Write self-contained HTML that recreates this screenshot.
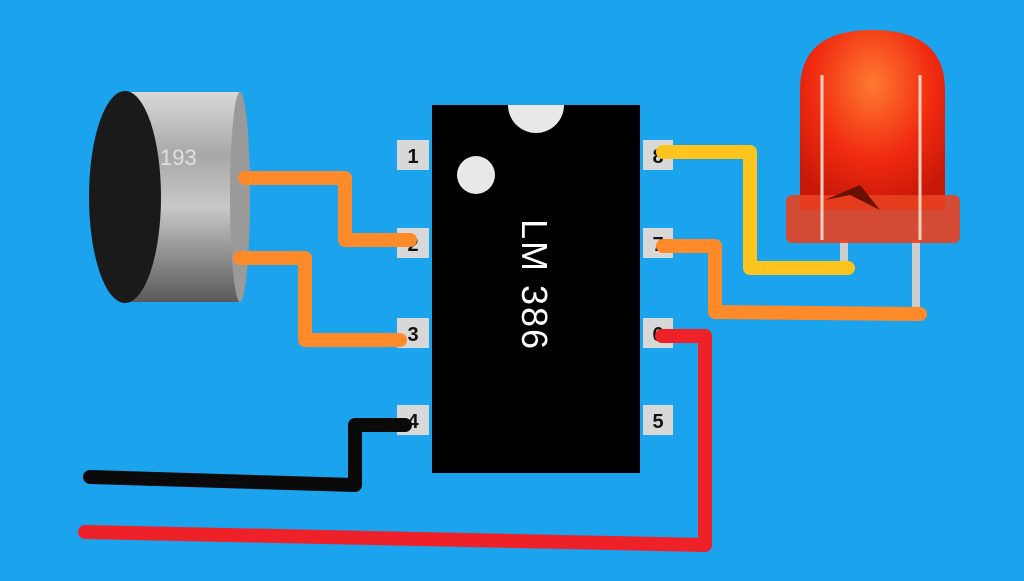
<!DOCTYPE html>
<html><head><style>body{margin:0;width:1024px;height:576px;overflow:hidden;background:#1ba3ee}</style></head><body>
<svg width="1024" height="576" viewBox="0 0 1024 576" xmlns="http://www.w3.org/2000/svg">
<defs>
<linearGradient id="mg" x1="0" y1="0" x2="0" y2="1">
<stop offset="0" stop-color="#d8d8d8"/><stop offset="0.3" stop-color="#a8a8a8"/><stop offset="0.55" stop-color="#c8c8c8"/><stop offset="0.8" stop-color="#8a8a8a"/><stop offset="1" stop-color="#5a5a5a"/></linearGradient>
<radialGradient id="lg" cx="0.5" cy="0.3" r="0.7"><stop offset="0" stop-color="#ff7a30"/><stop offset="0.6" stop-color="#f02a10"/><stop offset="1" stop-color="#c81808"/></radialGradient>
</defs>
<rect width="1024" height="576" fill="#1ba3ee"/>
<!-- mic -->
<rect x="125" y="92" width="115" height="210" fill="url(#mg)"/>
<ellipse cx="240" cy="197" rx="10" ry="105" fill="#9a9a9a"/>
<ellipse cx="125" cy="197" rx="36" ry="106" fill="#1a1a1a"/>
<text x="160" y="165" font-family="Liberation Sans,sans-serif" font-size="22" fill="#eee" opacity="0.8">193</text>
<!-- LED -->
<rect x="840" y="240" width="8" height="30" fill="#ccc"/>
<rect x="912" y="240" width="8" height="80" fill="#ccc"/>
<path d="M800 210 L800 90 Q800 30 872 30 Q945 30 945 90 L945 210 Z" fill="url(#lg)"/>
<rect x="786" y="195" width="174" height="48" rx="6" fill="#e84020" opacity="0.9"/>
<path d="M825 200 L860 185 L880 210 L850 195 Z" fill="#6a1000"/>
<line x1="822" y1="75" x2="822" y2="240" stroke="#ffd0c0" stroke-width="3"/>
<line x1="920" y1="75" x2="920" y2="240" stroke="#ffd0c0" stroke-width="3"/>
<!-- chip -->
<rect x="432" y="105" width="208" height="368" fill="#000"/>
<path d="M508 105 A28 28 0 0 0 564 105 Z" fill="#e8e8e8"/>
<circle cx="476" cy="175" r="19" fill="#e8e8e8"/>
<text transform="translate(522,285) rotate(90)" text-anchor="middle" font-family="Liberation Sans,sans-serif" font-size="36" fill="#fff" letter-spacing="2">LM 386</text>
<g fill="#d8d8d8">
<rect x="397" y="140" width="32" height="30"/><rect x="397" y="228" width="32" height="30"/><rect x="397" y="318" width="32" height="30"/><rect x="397" y="405" width="32" height="30"/>
<rect x="643" y="140" width="30" height="30"/><rect x="643" y="228" width="30" height="30"/><rect x="643" y="318" width="30" height="30"/><rect x="643" y="405" width="30" height="30"/>
</g>
<g font-family="Liberation Sans,sans-serif" font-weight="bold" font-size="20" fill="#111" text-anchor="middle">
<text x="413" y="163">1</text><text x="413" y="251">2</text><text x="413" y="341">3</text><text x="413" y="428">4</text>
<text x="658" y="163">8</text><text x="658" y="251">7</text><text x="658" y="341">6</text><text x="658" y="428">5</text>
</g>
<!-- wires -->
<g fill="none" stroke-width="14" stroke-linecap="round" stroke-linejoin="round">
<polyline points="245,178 345,178 345,240 410,240" stroke="#fe8a2a"/>
<polyline points="240,258 305,258 305,340 400,340" stroke="#fe8a2a"/>
<polyline points="663,152 750,152 750,268 848,268" stroke="#fcc41c"/>
<polyline points="663,246 715,246 715,312 920,314" stroke="#fe8a2a"/>
<polyline points="662,336 705,336 705,545 85,532" stroke="#ee2028"/>
<polyline points="90,477 355,485 355,425 405,425" stroke="#0a0a0a"/>
</g>
</svg>
</body></html>
